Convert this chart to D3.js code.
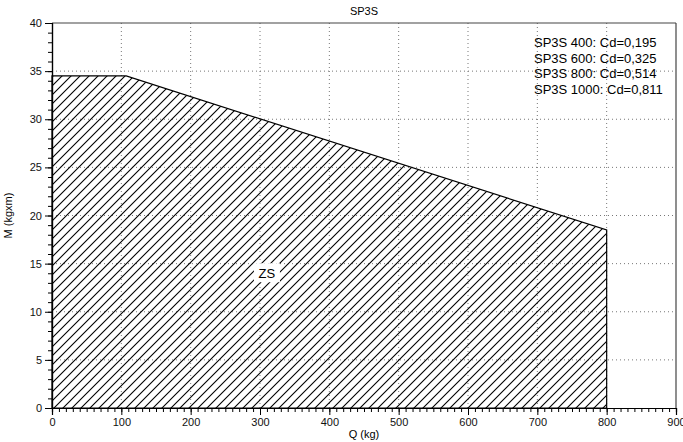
<!DOCTYPE html>
<html>
<head>
<meta charset="utf-8">
<script src="https://cdn.jsdelivr.net/npm/d3@7"></script>
<style>
  body { margin: 0; background: #fff; }
  text { font-family: "Liberation Sans", Arial, sans-serif; }
</style>
</head>
<body>
<div id="chart"></div>
<script>
// zone boundary (Q in kg, M in kg x m)
const qValues = [0, 0, 107, 800, 800];
const mValues = [0, 34.5, 34.5, 18.5, 0];
const xTicks = [0, 100, 200, 300, 400, 500, 600, 700, 800, 900];
const yTicks = [0, 5, 10, 15, 20, 25, 30, 35, 40];
const notes = ["SP3S 400: Cd=0,195", "SP3S 600: Cd=0,325", "SP3S 800: Cd=0,514", "SP3S 1000: Cd=0,811"];
const zoneLabel = {q: 310, m: 14, text: "ZS"};

const margin = {top: 23, right: 7, bottom: 34, left: 52};
const width = 683 - margin.left - margin.right;
const height = 442 - margin.top - margin.bottom;

const svg = d3.select("#chart")
    .append("svg")
    .attr("width", 683)
    .attr("height", 442);

const defs = svg.append("defs");
const pat = defs.append("pattern")
    .attr("id", "hatch")
    .attr("patternUnits", "userSpaceOnUse")
    .attr("width", 9)
    .attr("height", 9);
pat.append("path")
    .attr("d", "M-1,1 l2,-2 M0,9 l9,-9 M8,10 l2,-2")
    .attr("stroke", "#000")
    .attr("stroke-width", 1.1);

const g = svg.append("g")
    .attr("transform", `translate(${margin.left},${margin.top})`);

const x = d3.scaleLinear().domain([0, 900]).range([0, width]);
const y = d3.scaleLinear().domain([0, 40]).range([height, 0]);

// grid
g.selectAll(".gx")
    .data(xTicks.slice(1, -1))
    .enter().append("line")
    .attr("x1", d => x(d)).attr("x2", d => x(d))
    .attr("y1", 0).attr("y2", height)
    .attr("stroke", "#777").attr("stroke-width", 1)
    .attr("stroke-dasharray", "1,3");
g.selectAll(".gy")
    .data(yTicks.slice(1, -1))
    .enter().append("line")
    .attr("x1", 0).attr("x2", width)
    .attr("y1", d => y(d)).attr("y2", d => y(d))
    .attr("stroke", "#777").attr("stroke-width", 1)
    .attr("stroke-dasharray", "1,3");

// zone
const pts = qValues.map((q, i) => [x(q), y(mValues[i])]);
g.append("path")
    .attr("d", d3.line()(pts) + "Z")
    .attr("fill", "url(#hatch)")
    .attr("stroke", "#000")
    .attr("stroke-width", 1.2);

// label box
const lx = x(zoneLabel.q), ly = y(zoneLabel.m);
g.append("rect")
    .attr("x", lx - 13).attr("y", ly - 10)
    .attr("width", 26).attr("height", 19)
    .attr("fill", "#fff");
g.append("text")
    .attr("x", lx).attr("y", ly + 5)
    .attr("text-anchor", "middle")
    .attr("font-size", 13)
    .text(zoneLabel.text);

// frame
g.append("line").attr("x1", 0).attr("x2", width).attr("y1", 0).attr("y2", 0)
    .attr("stroke", "#444").attr("stroke-width", 1.2);
g.append("line").attr("x1", width).attr("x2", width).attr("y1", 0).attr("y2", height)
    .attr("stroke", "#444").attr("stroke-width", 1.2);

// axes
const xAxis = g.append("g")
    .attr("transform", `translate(0,${height})`)
    .call(d3.axisBottom(x).tickValues(d3.range(0, 901, 10)).tickSize(4).tickFormat(""));
xAxis.append("g")
    .call(d3.axisBottom(x).tickValues(xTicks).tickSize(7).tickFormat(d3.format("d")));
const yAxis = g.append("g")
    .call(d3.axisLeft(y).tickValues(d3.range(0, 41, 1)).tickSize(4).tickFormat(""));
yAxis.append("g")
    .call(d3.axisLeft(y).tickValues(yTicks).tickSize(7));
g.selectAll(".domain").attr("stroke", "#000").attr("stroke-width", 1.2);
g.selectAll(".tick line").attr("stroke", "#000");
g.selectAll(".tick text")
    .attr("font-size", 11)
    .attr("font-family", "Liberation Sans, Arial, sans-serif")
    .attr("fill", "#111");

// titles
svg.append("text")
    .attr("x", margin.left + width / 2).attr("y", 15)
    .attr("text-anchor", "middle").attr("font-size", 11)
    .text("SP3S");
svg.append("text")
    .attr("x", margin.left + width / 2).attr("y", 438)
    .attr("text-anchor", "middle").attr("font-size", 11)
    .text("Q (kg)");
svg.append("text")
    .attr("transform", `translate(12,${margin.top + height / 2}) rotate(-90)`)
    .attr("text-anchor", "middle").attr("font-size", 11)
    .text("M (kgxm)");

// notes
svg.selectAll(".note")
    .data(notes)
    .enter().append("text")
    .attr("x", 534)
    .attr("y", (d, i) => 47 + i * 15.5)
    .attr("font-size", 13)
    .text(d => d);
</script>
</body>
</html>
